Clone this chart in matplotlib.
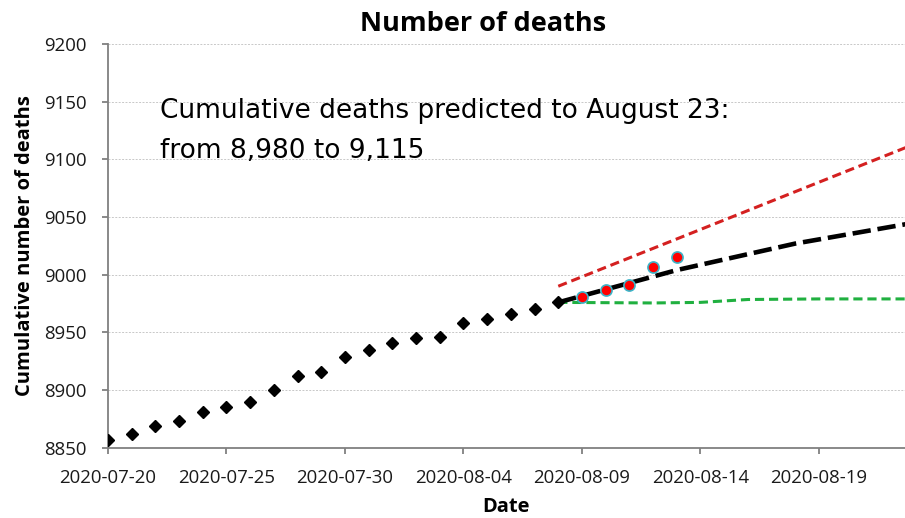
import numpy as np
import pandas as pd
import matplotlib
matplotlib.use('Agg')
import matplotlib.pyplot as plt
import matplotlib.dates as mdates

# observed cumulative deaths (black diamonds)
obs_dates = pd.date_range('2020-07-20', '2020-08-08', freq='D')
obs_deaths = [8857, 8862, 8869, 8873, 8881, 8885, 8890, 8900, 8912, 8916,
              8929, 8935, 8941, 8945, 8946, 8958, 8962, 8966, 8970, 8976]

# later observations (red dots)
new_dates = pd.date_range('2020-08-09', '2020-08-13', freq='D')
new_deaths = [8981, 8987, 8991, 9007, 9015]

# predictions
upper_dates = pd.to_datetime(['2020-08-08', '2020-08-23'])
upper_vals = [8990, 9113]
mid_dates = pd.to_datetime(['2020-08-08', '2020-08-13', '2020-08-18', '2020-08-23'])
mid_vals = [8976, 9004, 9027, 9045]
low_dates = pd.to_datetime(['2020-08-08', '2020-08-12', '2020-08-14', '2020-08-16',
                            '2020-08-19', '2020-08-23'])
low_vals = [8976, 8975.5, 8976, 8978.5, 8979, 8979]

tick_dates = pd.date_range('2020-07-20', '2020-08-19', freq='5D')

fig = plt.figure(figsize=(9.05, 5.18), dpi=100)
ax = fig.add_axes([0.1193, 0.1357, 0.8807, 0.7793])

ax.plot(obs_dates, obs_deaths, linestyle='none', marker='D', markersize=6,
        color='black', zorder=3)
ax.plot(upper_dates, upper_vals, color='#d42020', linestyle=(0, (3, 1.6)), lw=2.2, zorder=2)
ax.plot(low_dates, low_vals, color='#20b040', linestyle=(0, (3, 1.6)), lw=2.2, zorder=2)
ax.plot(mid_dates, mid_vals, color='black', linestyle=(0, (4, 1.5)), lw=3.3, zorder=4)
ax.plot(new_dates, new_deaths, linestyle='none', marker='o', markersize=8,
        markerfacecolor='#ff0000', markeredgecolor='#3cb4c8', markeredgewidth=1.2, zorder=5)

start = pd.Timestamp('2020-07-20')
ax.set_xlim(start, start + pd.Timedelta(days=33.63))
ax.set_ylim(8850, 9200)
ax.set_yticks(np.arange(8850, 9201, 50))
ax.set_xticks(tick_dates)
ax.xaxis.set_major_formatter(mdates.DateFormatter('%Y-%m-%d'))

ax.grid(axis='y', color='#c8c8c8', linestyle=(0, (2, 1.5)), lw=0.7)
ax.set_axisbelow(True)
for s in ['top', 'right']:
    ax.spines[s].set_visible(False)
for s in ['left', 'bottom']:
    ax.spines[s].set_color('#808080')
    ax.spines[s].set_linewidth(1.3)
ax.tick_params(axis='both', colors='#808080', width=1.3, length=4.5, labelcolor='#1a1a1a',
               labelsize=13.4)
for lab in ax.get_xticklabels() + ax.get_yticklabels():
    lab.set_fontfamily('Open Sans')
ax.tick_params(axis='x', pad=10.5)
ax.tick_params(axis='y', pad=11)

ax.set_xlabel('Date', fontsize=14.5, fontweight='bold', family='Open Sans', labelpad=7.5)
ax.set_ylabel('Cumulative number of deaths', fontsize=14.5, fontweight='bold',
              family='Open Sans', labelpad=6)
fig.text(0.534, 0.9407, 'Number of deaths', ha='center', va='baseline', fontsize=19.5,
         fontweight='bold', family='Open Sans')

fig.text(0.1768, 0.7716, 'Cumulative deaths predicted to August 23:',
         ha='left', va='baseline', fontsize=19, family='DejaVu Sans')
fig.text(0.1768, 0.6944, 'from 8,980 to 9,115',
         ha='left', va='baseline', fontsize=19, family='DejaVu Sans')

fig.savefig('out.png', dpi=100)
